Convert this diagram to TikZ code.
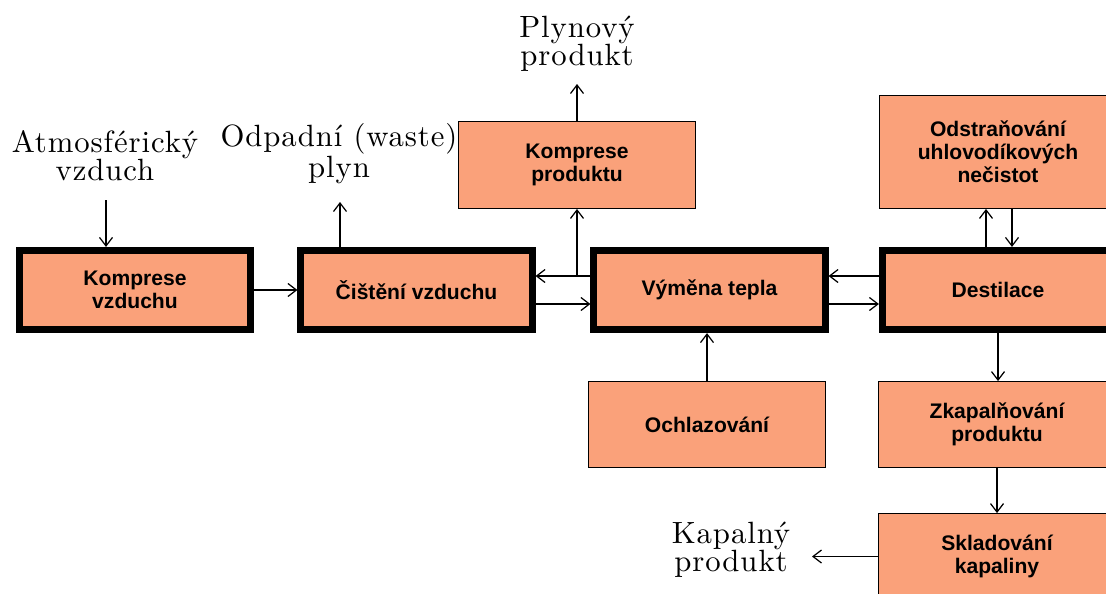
\documentclass[tikz,border=0pt]{standalone}
\usepackage{fontspec}
\newfontfamily\boxfont{Liberation Sans}
\newfontfamily\labelfont[Extension=.otf, LetterSpace=3]{lmroman10-regular}
\usepackage{tikz}
\usetikzlibrary{positioning,arrows.meta,calc}
\usepackage{xcolor}
\definecolor{salmonfill}{RGB}{250,161,122}

\begin{document}
\begin{tikzpicture}[
    x=0.02cm, y=-0.02cm,
    every node/.style={align=center},
    stageMain/.style={rectangle, draw=black, line width=3.8pt, fill=salmonfill, minimum width=4.63cm, minimum height=1.59cm, font=\boxfont\bfseries\fontsize{12}{13}\selectfont},
    stageAux/.style={rectangle, draw=black, line width=0.8pt, fill=salmonfill, minimum width=4.73cm, minimum height=1.71cm, font=\boxfont\bfseries\fontsize{12}{13}\selectfont},
    streamLabel/.style={font=\labelfont\fontsize{17.5}{16}\selectfont, inner sep=0pt},
    flowLine/.style={draw=black, line width=0.7pt, -{Straight Barb[length=1.7mm,width=2.6mm]}}
]
    \useasboundingbox (0,0) rectangle (1106,593);
    \clip (0,0) rectangle (1106,593);

    \node [stageMain] (kv) at (135, 290) {Komprese\\vzduchu};
    \node [stageMain] (cv) at (416.5, 290) {Čištění vzduchu};
    \node [stageMain] (vt) at (709.5, 290) {Výměna tepla};
    \node [stageMain] (ds) at (998, 290) {Destilace};

    \node [stageAux, minimum height=1.73cm] (kp) at (577, 165) {Komprese\\produktu};
    \node [stageAux, minimum height=2.25cm] (od) at (998, 152) {Odstraňování\\uhlovodíkových\\nečistot};
    \node [stageAux] (och) at (707, 424.5) {Ochlazování};
    \node [stageAux] (zk) at (997, 424.5) {Zkapalňování\\produktu};
    \node [stageAux] (sk) at (997, 556.5) {Skladování\\kapaliny};

    \node [streamLabel] (air) at (105, 156) {Atmosférický\\vzduch};
    \node [streamLabel] (waste) at (339, 154) {Odpadní (waste)\\plyn};
    \node [streamLabel] (gas) at (577, 44) {Plynový\\produkt};
    \node [streamLabel] (liquid) at (731, 550) {Kapalný\\produkt};

    \coordinate (airIn) at (106, 200);
    \coordinate (wasteOut) at (340, 202);
    \coordinate (gasOut) at (577, 84);
    \coordinate (liquidOut) at (812, 557);
    \path ([yshift=0.28cm]vt.west) coordinate (vtL1) ([yshift=-0.28cm]vt.west) coordinate (vtL2)
          ([yshift=0.28cm]vt.east) coordinate (vtR1) ([yshift=-0.28cm]vt.east) coordinate (vtR2);
    \path ([xshift=-0.24cm]ds.north) coordinate (dsUp) ([xshift=0.28cm]ds.north) coordinate (dsDown);
    \coordinate (split) at (vtL1 -| kp.south);

    \path [flowLine] (airIn) -- (airIn |- kv.north);
    \path [flowLine] (kv.east) -- (cv.west);
    \path [flowLine] (wasteOut |- cv.north) -- (wasteOut);

    \path [flowLine] (vtL1) -- (vtL1 -| cv.east);
    \path [flowLine] (split) -- (kp.south);
    \path [flowLine] (vtL2 -| cv.east) -- (vtL2);
    \path [flowLine] (kp.north) -- (gasOut);

    \path [flowLine] (vtR1 -| ds.west) -- (vtR1);
    \path [flowLine] (vtR2) -- (vtR2 -| ds.west);
    \path [flowLine] (dsUp) -- (dsUp |- od.south);
    \path [flowLine] (dsDown |- od.south) -- (dsDown);

    \path [flowLine] (och.north) -- (och.north |- vt.south);
    \path [flowLine] (ds.south) -- (ds.south |- zk.north);
    \path [flowLine] (zk.south) -- (zk.south |- sk.north);
    \path [flowLine] (sk.west) -- (sk.west -| liquidOut);
\end{tikzpicture}
\end{document}
